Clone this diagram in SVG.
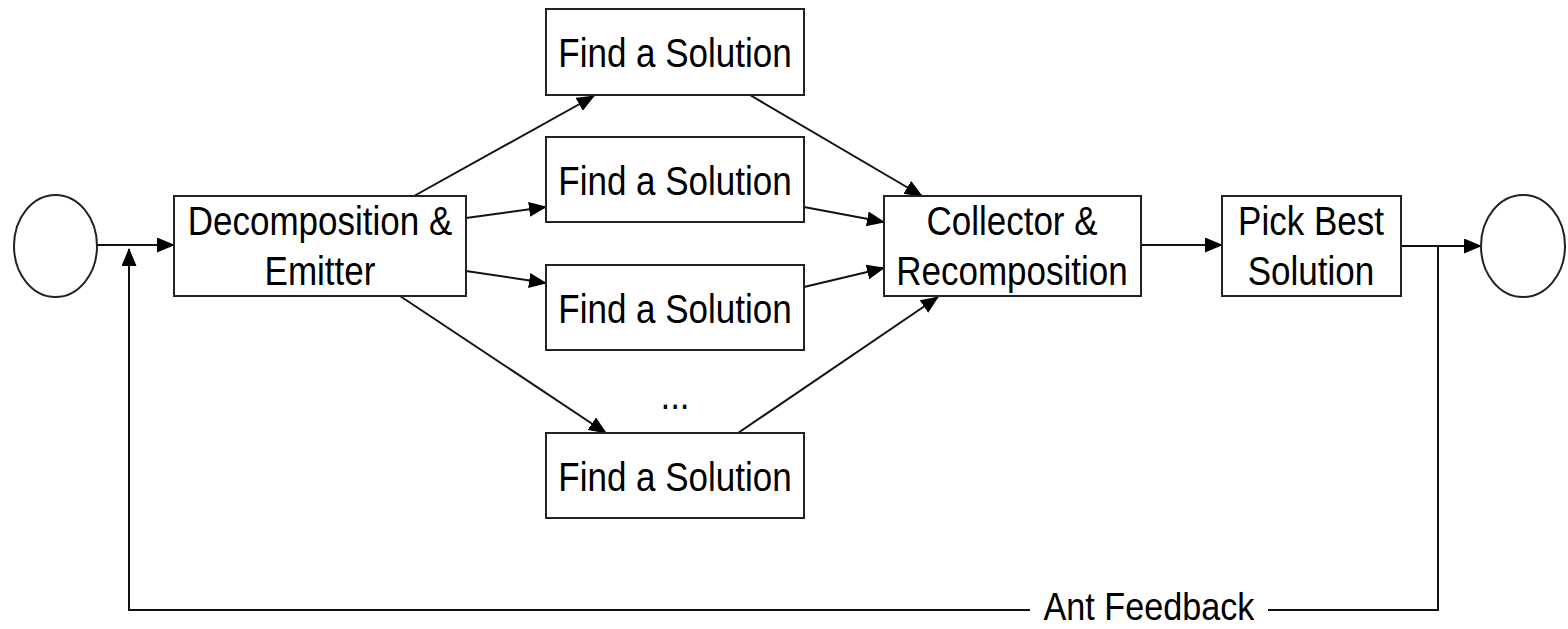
<svg xmlns="http://www.w3.org/2000/svg" width="1568" height="629" viewBox="0 0 1568 629">
<style>
.box{fill:#fff;stroke:#222;stroke-width:2}
.circ{fill:#fff;stroke:#222;stroke-width:2}
.lbl{font-family:"Liberation Sans",Arial,sans-serif;font-size:40px;fill:#000;text-anchor:middle}
.edge{fill:none;stroke:#111;stroke-width:2}
</style>
<defs>
<marker id="arr" markerWidth="18" markerHeight="15" refX="17" refY="7.5" orient="auto" markerUnits="userSpaceOnUse">
<path d="M0,0 L18,7.5 L0,15 Z" fill="#000"/>
</marker>
</defs>
<rect width="1568" height="629" fill="#fff"/>
<g id="connectors">
<line class="edge" x1="97" y1="245" x2="174" y2="245" marker-end="url(#arr)"/>
<line class="edge" x1="414" y1="196" x2="594" y2="96" marker-end="url(#arr)"/>
<line class="edge" x1="466" y1="218" x2="546" y2="207" marker-end="url(#arr)"/>
<line class="edge" x1="466" y1="271" x2="546" y2="283" marker-end="url(#arr)"/>
<line class="edge" x1="400" y1="296" x2="606" y2="433" marker-end="url(#arr)"/>
<line class="edge" x1="750" y1="95" x2="922" y2="196" marker-end="url(#arr)"/>
<line class="edge" x1="804" y1="207" x2="884" y2="222" marker-end="url(#arr)"/>
<line class="edge" x1="804" y1="287" x2="884" y2="268" marker-end="url(#arr)"/>
<line class="edge" x1="738" y1="433" x2="938" y2="297" marker-end="url(#arr)"/>
<line class="edge" x1="1141" y1="245" x2="1222" y2="245" marker-end="url(#arr)"/>
<line class="edge" x1="1401" y1="246" x2="1481" y2="246" marker-end="url(#arr)"/>
<polyline class="edge" points="1438,246 1438,610 1268,610"/>
<polyline class="edge" points="1030,610 129,610 129,249" marker-end="url(#arr)"/>
<text class="lbl" style="font-size:38px" transform="translate(1149,620) scale(0.9,1)">Ant Feedback</text>
</g>
<g id="start"><ellipse class="circ" cx="55.5" cy="246" rx="41.5" ry="51"/></g>
<g id="decomp"><rect class="box" x="174" y="196" width="292" height="100"/>
<text class="lbl" transform="translate(320,235) scale(0.875,1)">Decomposition &amp;</text>
<text class="lbl" transform="translate(320,285) scale(0.875,1)">Emitter</text></g>
<g id="find1"><rect class="box" x="546" y="9" width="258" height="86"/><text class="lbl" transform="translate(675,67) scale(0.875,1)">Find a Solution</text></g>
<g id="find2"><rect class="box" x="546" y="137" width="258" height="85"/><text class="lbl" transform="translate(675,195) scale(0.875,1)">Find a Solution</text></g>
<g id="find3"><rect class="box" x="546" y="265" width="258" height="85"/><text class="lbl" transform="translate(675,323) scale(0.875,1)">Find a Solution</text></g>
<g id="dots"><text class="lbl" transform="translate(675,409) scale(0.875,1)">...</text></g>
<g id="find4"><rect class="box" x="546" y="433" width="258" height="85"/><text class="lbl" transform="translate(675,491) scale(0.875,1)">Find a Solution</text></g>
<g id="collector"><rect class="box" x="884" y="196" width="257" height="100"/>
<text class="lbl" transform="translate(1012,235) scale(0.875,1)">Collector &amp;</text>
<text class="lbl" transform="translate(1012,285) scale(0.875,1)">Recomposition</text></g>
<g id="pick"><rect class="box" x="1222" y="196" width="179" height="100"/>
<text class="lbl" transform="translate(1311,235) scale(0.875,1)">Pick Best</text>
<text class="lbl" transform="translate(1311,285) scale(0.875,1)">Solution</text></g>
<g id="end"><ellipse class="circ" cx="1523" cy="246" rx="42" ry="51"/></g>
</svg>
